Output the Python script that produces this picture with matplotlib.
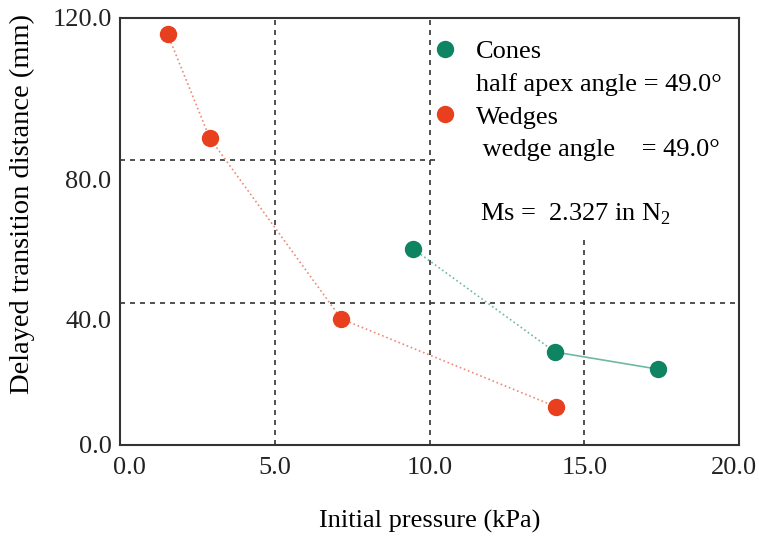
import matplotlib
matplotlib.use('Agg')
import matplotlib.pyplot as plt
import matplotlib.transforms as mtrans
from matplotlib.lines import Line2D
from matplotlib.patches import Rectangle

plt.rcParams['font.family'] = ['Liberation Serif', 'DejaVu Serif']
plt.rcParams['mathtext.fontset'] = 'custom'
plt.rcParams['mathtext.rm'] = 'Liberation Serif'

# wedges (red)
wedge_p = [1.54, 2.90, 7.15, 14.09]
wedge_d = [115.4, 86.2, 35.4, 10.7]

# cones (green)
cone_p = [9.48, 14.05, 17.36]
cone_d = [55.0, 26.1, 21.3]

x_ticks = [0, 5, 10, 15, 20]
y_ticks = [0, 40, 80, 120]

red = '#e8401e'
red_line = '#ee8a78'
green = '#0e8462'
green_line = '#6fb8a2'

fig = plt.figure(figsize=(7.59, 5.38), dpi=100)
ax = fig.add_axes([0.158, 0.173, 0.816, 0.794])

ax.set_xlim(0, 20)
ax.set_ylim(0, 120)
ax.set_xticks(x_ticks)
ax.set_yticks(y_ticks)
ax.set_xticklabels(['%.1f' % v for v in x_ticks])
ax.set_yticklabels(['%.1f' % v for v in y_ticks])
ax.tick_params(length=0, labelsize=19, colors='#222222')
ax.tick_params(axis='x', pad=9)
ax.tick_params(axis='y', pad=6)

# the scanned original has some tick labels nudged off their ticks
def nudge(label, dx, dy):
    label.set_transform(label.get_transform() +
                        mtrans.ScaledTranslation(dx / 72, dy / 72, fig.dpi_scale_trans))

xl = ax.get_xticklabels()
nudge(xl[0], 7, 0)
nudge(xl[-1], -4, 0)
yl = ax.get_yticklabels()
nudge(yl[1], 0, -12)
nudge(yl[2], 0, -14)

for s in ax.spines.values():
    s.set_linewidth(1.5)
    s.set_color('#333333')

# dashed grid at inner ticks only
for xv in x_ticks[1:-1]:
    ax.axvline(xv, color='#333333', ls=(0, (3, 3)), lw=1.2, zorder=1)
for yv in y_ticks[1:-1]:
    ax.axhline(yv, color='#333333', ls=(0, (3, 3)), lw=1.2, zorder=1)

# white box behind the legend text hides the grid there
ax.add_patch(Rectangle((0.508, 0.487), 0.487, 0.51, transform=ax.transAxes,
                       facecolor='white', edgecolor='none', zorder=2))

ax.plot(wedge_p, wedge_d, ls=':', color=red_line, lw=1.2, zorder=3)
ax.plot(wedge_p, wedge_d, 'o', color=red, ms=11.5, zorder=4)

ax.plot(cone_p[:2], cone_d[:2], ls=':', color=green_line, lw=1.2, zorder=3)
ax.plot(cone_p[1:], cone_d[1:], ls='-', color=green_line, lw=1.2, zorder=3)
ax.plot(cone_p, cone_d, 'o', color=green, ms=11.5, zorder=4)

handles = [
    Line2D([], [], marker='o', ls='none', color=green, ms=11.5),
    Line2D([], [], ls='none'),
    Line2D([], [], marker='o', ls='none', color=red, ms=11.5),
    Line2D([], [], ls='none'),
]
labels = ['Cones', 'half apex angle = 49.0°', 'Wedges', ' wedge angle    = 49.0°']
leg = ax.legend(handles, labels, loc='upper left', bbox_to_anchor=(0.49, 0.973),
                frameon=False, fontsize=19, handlelength=0.8, handletextpad=0.8,
                labelspacing=0.35, borderaxespad=0)
leg.set_zorder(5)

ax.text(0.582, 0.541, r'Ms =  2.327 in N$_2$', transform=ax.transAxes,
        fontsize=19, zorder=5, va='center')

ax.set_xlabel('Initial pressure (kPa)', fontsize=19, labelpad=22)
ax.set_ylabel('Delayed transition distance (mm)', fontsize=20.5)
ax.yaxis.set_label_coords(-0.137, 0.565)

fig.savefig('out.png', dpi=100)
